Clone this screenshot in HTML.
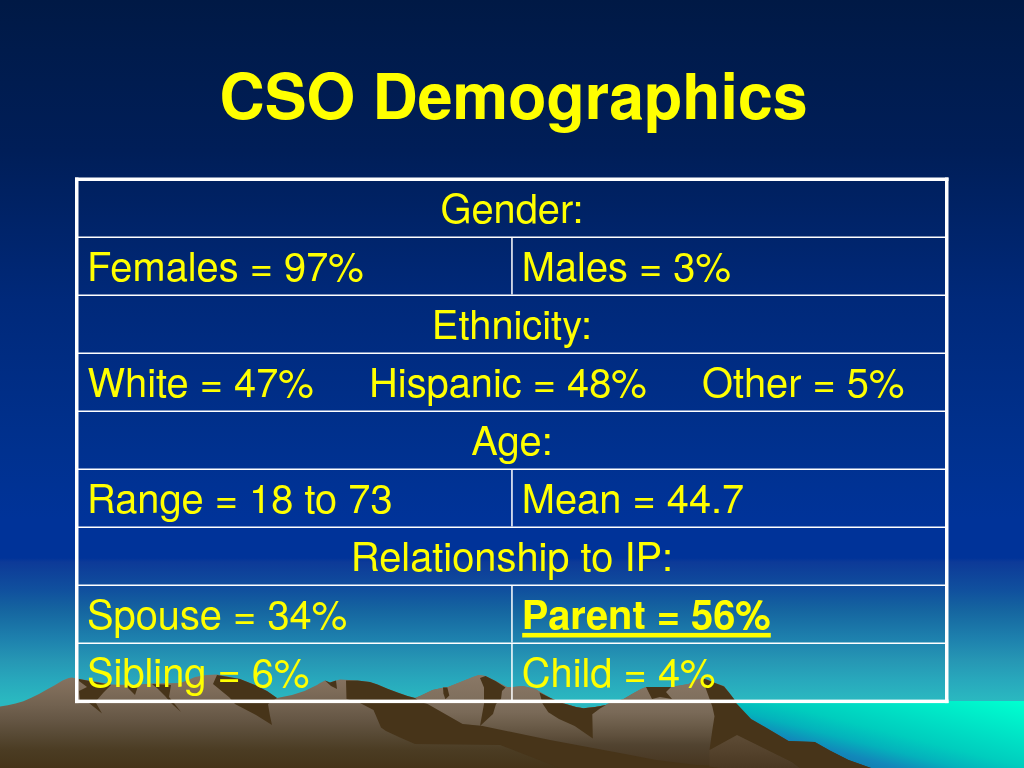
<!DOCTYPE html>
<html><head><meta charset="utf-8"><title>CSO Demographics</title>
<style>
html,body{margin:0;padding:0;width:1024px;height:768px;overflow:hidden;background:#011945}
svg{position:absolute;left:0;top:0;display:block}
text{font-family:"TeX Gyre Heros","Liberation Sans",Arial,sans-serif;fill:#ffff00}
.c{font-size:39.82px}
.b{font-weight:bold}
text{white-space:pre}
.h{font-size:62.58px;font-weight:bold}
</style></head>
<body>
<svg width="1024" height="768" viewBox="0 0 1024 768">
<defs>
<linearGradient id="sky" gradientUnits="userSpaceOnUse" x1="0" y1="0" x2="0" y2="768">
<stop offset="0" stop-color="#001945"/>
<stop offset="0.0651" stop-color="#001b4c"/>
<stop offset="0.1953" stop-color="#001e58"/>
<stop offset="0.3906" stop-color="#00297a"/>
<stop offset="0.5859" stop-color="#00318f"/>
<stop offset="0.6771" stop-color="#003399"/>
<stop offset="0.7266" stop-color="#003399"/>
<stop offset="0.7318" stop-color="#0d3a98"/>
<stop offset="0.7682" stop-color="#10509e"/>
<stop offset="0.7943" stop-color="#1565a0"/>
<stop offset="0.8333" stop-color="#1e82ae"/>
<stop offset="0.8594" stop-color="#2696b4"/>
<stop offset="0.8854" stop-color="#28a8bc"/>
<stop offset="0.9115" stop-color="#2ab8c0"/>
<stop offset="1" stop-color="#2ab8c0"/>
</linearGradient>
<linearGradient id="sea" gradientUnits="userSpaceOnUse" x1="1024" y1="703" x2="995.6" y2="813.2">
<stop offset="0" stop-color="#00ffd0"/>
<stop offset="0.544" stop-color="#00cdbe"/>
<stop offset="0.693" stop-color="#04b2bc"/>
<stop offset="0.825" stop-color="#1288ba"/>
<stop offset="1" stop-color="#1072a6"/>
</linearGradient>
<linearGradient id="mt" gradientUnits="userSpaceOnUse" x1="0" y1="674" x2="0" y2="768">
<stop offset="0" stop-color="#887462"/>
<stop offset="0.17" stop-color="#7e6c59"/>
<stop offset="0.33" stop-color="#726250"/>
<stop offset="0.49" stop-color="#655644"/>
<stop offset="0.65" stop-color="#574934"/>
<stop offset="0.81" stop-color="#4b3c23"/>
<stop offset="1" stop-color="#453419"/>
</linearGradient>
<linearGradient id="mt2" gradientUnits="userSpaceOnUse" x1="0" y1="675" x2="0" y2="765">
<stop offset="0" stop-color="#8a7866"/>
<stop offset="0.28" stop-color="#7f6f5d"/>
<stop offset="0.41" stop-color="#7a6a58"/>
<stop offset="0.55" stop-color="#6c5d4a"/>
<stop offset="0.67" stop-color="#5f503d"/>
<stop offset="0.78" stop-color="#514330"/>
<stop offset="1" stop-color="#473620"/>
</linearGradient>
<linearGradient id="mt3" gradientUnits="userSpaceOnUse" x1="0" y1="734" x2="0" y2="768">
<stop offset="0" stop-color="#5e4c36"/>
<stop offset="1" stop-color="#4a3822"/>
</linearGradient>
</defs>
<rect width="1024" height="768" fill="url(#sky)"/>
<rect x="650" y="701" width="374" height="67" fill="url(#sea)"/>
<!-- mountain body -->
<polygon fill="url(#mt)" points="0,706.4 7.8,705.2 15.6,703.6 23.4,701.3 31.25,697.8 39,693.9 46.9,689.6 54.7,685.3 62.5,680.6 68.75,677.9 71.9,677.5 78,678.8 89,680.6 112,684.4 132,685 152,683.6 180,683 187,680.4 195,677 206,675 217,674.5 240,679 255,685 267,691 277,698 292,695 304.5,691 317,685 320,683 325,680.6 330,682.5 336,680.6 340,679.4 349,680 357.5,680.6 370,682 377.5,684.4 387.5,688.8 397.5,692.5 407.5,696 415,698 420,696 432.5,690 444,687.5 448,687 460.5,682 473,677 479,675 485.5,676 495.5,681 507,687 513,687 523,686 535.5,689 541.8,693 550.5,698 560.5,702.5 576,707 583.5,708.3 595,707 606,705 607,704 623.5,699 632,694 641,689 646,687 671,687 688.5,684 696,680 701,678.3 706,679.3 715,683 724,686 729,692.5 734,699 736,703 751,719 770,730 788.5,741 814.8,742 829.8,750.6 848.5,760 871,768 0,768"/>
<!-- right mountain mass -->
<polygon fill="url(#mt2)" points="415,698 420,696 432.5,690 444,687.5 448,687 460.5,682 473,677 479,675 485.5,676 495.5,681 507,687 513,687 523,686 535.5,689 541.8,693 550.5,698 560.5,702.5 576,707 583.5,708.3 595,707 606,705 607,704 623.5,699 632,694 641,689 646,687 671,687 688.5,684 696,680 701,678.3 706,679.3 715,683 720,700 716,720 712,740 710,765 600,765 520,745 482.5,726 462.5,724 427.5,704"/>
<polygon fill="url(#mt3)" points="709.5,750 736.5,734.6 792,762 800,768 709.5,768"/>
<!-- shadows -->
<g fill="#473419">
<polygon points="79,679 111,685 104,692 97,700 96,703 102,713.5 89,703 80,700 79,691 87,687 79,681"/>
<polygon points="126,686 138,686 135,695"/>
<polygon points="152,684 171,685 169,697 174,703 181,712 172,704 165,696 157,688"/>
<polygon points="217,675 240,679 255,685 267,691 277,698 268,704 270,716 272,725 256,715 235,704 229.5,697.5 213,684"/>
<polygon points="325,680.6 330,682.5 336,680.6 337,689 331,686"/>
<polygon points="346,680.6 357.5,680.6 370,682 377.5,684.4 387.5,688.8 397.5,692.5 407.5,696 415,698 420,702 427.5,704 462.5,724 482.5,726 550,740 625,754 656,760 720,768 560,768 500,745 415,744 400,737.5 386,731 381,727.5 373.5,710 360,703 346.5,699"/>
<polygon points="443,687.6 447.3,687.6 449.3,695.4 445.4,699.3 443.4,693.4"/>
<polygon points="480,678 485.5,676 495.5,681 505.5,687.5 502,691 501,699 496,704 493,714 480,726 484,704 484,687.5"/>
<polygon points="539.5,692.5 550.5,698 560.5,702.5 576,707 583.5,708.3 595,707 606,705 600,708.5 592.3,714.2 592.8,738.6 574.7,725.9 559,719 548.3,712.2 542.5,703.4"/>
<polygon points="646,687 671,687 666,692 672,699 660,697 652,699"/>
<polygon points="701,678.3 706,679.3 715,683 724,686.5 729,692.5 734,699 736,703 751,719 770,730 788.5,741 814.8,742 829.8,750.6 848.5,760 871,768 800,768 792,762 737,735 709.5,750 712.3,730.3 714.5,716.3 712.3,706.4 708.7,696.6 704.6,685.3"/>
</g>
<!-- table lines -->
<g fill="#ffffff">
<rect x="75" y="177.5" width="873.5" height="3.5"/>
<rect x="75" y="699.6" width="873.5" height="3.5"/>
<rect x="75" y="177.5" width="3.5" height="525.6"/>
<rect x="945" y="177.5" width="3.5" height="525.6"/>
<rect x="78" y="236.5" width="867" height="1.5"/>
<rect x="78" y="294.5" width="867" height="1.5"/>
<rect x="78" y="352.5" width="867" height="1.5"/>
<rect x="78" y="410.5" width="867" height="1.5"/>
<rect x="78" y="468.5" width="867" height="1.5"/>
<rect x="78" y="526.5" width="867" height="1.5"/>
<rect x="78" y="584.5" width="867" height="1.5"/>
<rect x="78" y="642.5" width="867" height="1.5"/>
<rect x="511.2" y="238" width="1.5" height="56.5"/>
<rect x="511.2" y="470" width="1.5" height="56.5"/>
<rect x="511.2" y="586" width="1.5" height="56.5"/>
<rect x="511.2" y="644" width="1.5" height="56"/>
</g>
<text class="h" x="219.6" y="119.3">CSO Demographics</text>
<text class="c" x="512" y="223.2" text-anchor="middle">Gender:</text>
<text class="c" x="87" y="281.2">Females = 97%</text>
<text class="c" x="521.8" y="281.2">Males = 3%</text>
<text class="c" x="512" y="339.2" text-anchor="middle">Ethnicity:</text>
<text class="c" x="87.5" y="397.2">White = 47%     Hispanic = 48%     Other = 5%</text>
<text class="c" x="512" y="455.2" text-anchor="middle">Age:</text>
<text class="c" x="87" y="513.2">Range = 18 to 73</text>
<text class="c" x="521.8" y="513.2">Mean = 44.7</text>
<text class="c" x="512" y="571.2" text-anchor="middle">Relationship to IP:</text>
<text class="c" x="87" y="629.2">Spouse = 34%</text>
<text class="c b" x="521.8" y="629.2">Parent = 56%</text>
<text class="c" x="87" y="687.2">Sibling = 6%</text>
<text class="c" x="521.8" y="687.2">Child = 4%</text>
<rect x="522.2" y="632.9" width="248.6" height="4.6" fill="#ffff00"/>
</svg>
</body></html>
